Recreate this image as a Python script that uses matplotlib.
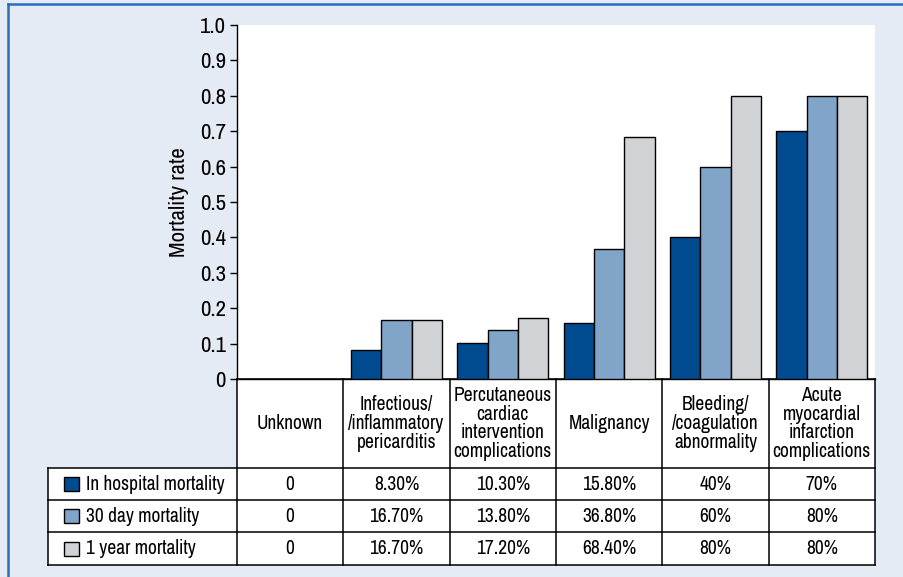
import numpy as np
import matplotlib.pyplot as plt
from matplotlib.patches import Rectangle
from matplotlib.lines import Line2D
import matplotlib.transforms as mtransforms

# data
categories = ["Unknown", "Infectious/\n/inflammatory\npericarditis",
              "Percutaneous\ncardiac\nintervention\ncomplications",
              "Malignancy", "Bleeding/\n/coagulation\nabnormality",
              "Acute\nmyocardial\ninfarction\ncomplications"]
series = ["In hospital mortality", "30 day mortality", "1 year mortality"]
in_hospital = [0, 0.083, 0.103, 0.158, 0.40, 0.70]
day30 = [0, 0.167, 0.138, 0.368, 0.60, 0.80]
year1 = [0, 0.167, 0.172, 0.684, 0.80, 0.80]
labels_hosp = ["0", "8.30%", "10.30%", "15.80%", "40%", "70%"]
labels_30 = ["0", "16.70%", "13.80%", "36.80%", "60%", "80%"]
labels_1y = ["0", "16.70%", "17.20%", "68.40%", "80%", "80%"]

colors = ["#004a8f", "#80a5c9", "#d0d2d6"]
BG = "#e5ebf4"
plt.rcParams['font.family'] = ['Archivo Narrow', 'DejaVu Sans']
FS = 14

W, H = 904, 577
fig = plt.figure(figsize=(W / 100, H / 100), dpi=100, facecolor=BG)

# outer frame lines (top and left)
fig.add_artist(Line2D([8 / W, 1], [1 - 4 / H, 1 - 4 / H], color="#2a6ebb", lw=1.8))
fig.add_artist(Line2D([8 / W, 8 / W], [0, 1 - 4 / H], color="#2a6ebb", lw=1.8))

ax = fig.add_axes([237 / W, (H - 379) / H, (875 - 237) / W, (379 - 25) / H])
ax.set_facecolor("white")

x = np.arange(len(categories))
bw = 0.285
for i, vals in enumerate([in_hospital, day30, year1]):
    ax.bar(x + (i - 1) * bw, vals, bw, color=colors[i], edgecolor="black", lw=1, zorder=3)

ax.set_xlim(-0.5, len(categories) - 0.5)
ax.set_ylim(0, 1.0)
ax.set_yticks(np.arange(0, 1.01, 0.1))
ax.set_yticklabels(["0"] + ["%.1f" % v for v in np.arange(0.1, 1.01, 0.1)])
ax.tick_params(axis="y", direction="out", length=5, width=1, labelsize=16.5, pad=3)
ax.set_xticks([])
for s in ["top", "right"]:
    ax.spines[s].set_visible(False)
ax.spines["left"].set_linewidth(1)
ax.spines["bottom"].set_linewidth(1)
ax.set_ylabel("Mortality rate", fontsize=16.5, labelpad=8)

# table below the axes: x in data units, y in axes fraction
tr = mtransforms.blended_transform_factory(ax.transData, ax.transAxes)
px = 1 / 354.0  # one pixel in axes fraction
left = -0.5 - (237 - 48.7) / 106.2
right = len(categories) - 0.5
y_head = -89 * px
row_h = 32.2 * px
y_rows = [y_head - k * row_h for k in range(4)]

# white cells
ax.add_patch(Rectangle((-0.5, y_head), right + 0.5, -y_head, transform=tr,
                       facecolor="white", edgecolor="none", clip_on=False))
ax.add_patch(Rectangle((left, y_rows[-1]), right - left, y_head - y_rows[-1], transform=tr,
                       facecolor="white", edgecolor="none", clip_on=False))

def line(xs, ys):
    ax.add_line(Line2D(xs, ys, transform=tr, color="black", lw=1.1, clip_on=False))

# horizontal lines
line([-0.5, right], [0, 0])
for yy in y_rows:
    line([left, right], [yy, yy])
# vertical lines
line([left, left], [y_rows[0], y_rows[-1]])
for k in range(len(categories) + 1):
    line([k - 0.5, k - 0.5], [0, y_rows[-1]])

for k, cat in enumerate(categories):
    ax.text(k, y_head / 2, cat, transform=tr, ha="center", va="center",
            fontsize=FS, linespacing=0.98, clip_on=False)

rows = [labels_hosp, labels_30, labels_1y]
for r, (name, labs) in enumerate(zip(series, rows)):
    yc = (y_rows[r] + y_rows[r + 1]) / 2
    ax.add_patch(Rectangle((left + 16 / 106.2, yc - 7 * px), 14 / 106.2, 14 * px,
                           transform=tr, facecolor=colors[r], edgecolor="black",
                           lw=1, clip_on=False))
    ax.text(left + 37 / 106.2, yc, name, transform=tr, ha="left", va="center",
            fontsize=FS, clip_on=False)
    for k, lab in enumerate(labs):
        ax.text(k, yc, lab, transform=tr, ha="center", va="center",
                fontsize=FS, clip_on=False)

fig.savefig("out.png", dpi=100, facecolor=BG)
